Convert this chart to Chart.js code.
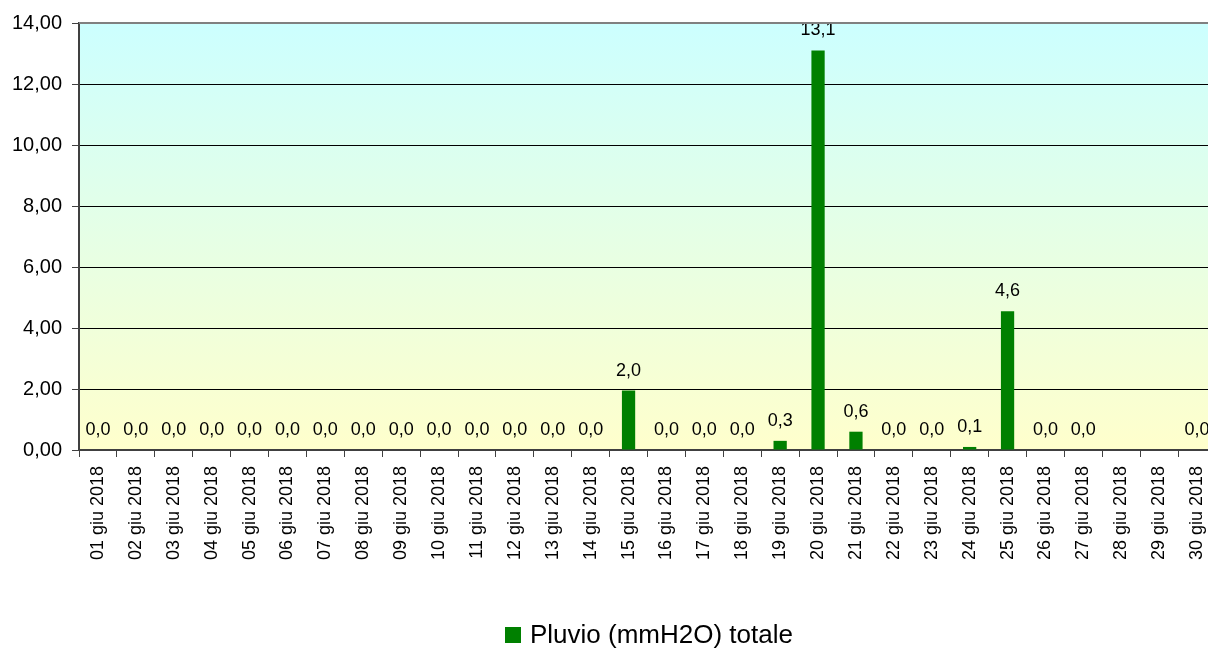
<!DOCTYPE html>
<html>
<head>
<meta charset="utf-8">
<script src="https://cdn.jsdelivr.net/npm/chart.js@4"></script>
<style>
  html, body { margin: 0; padding: 0; background: #fff; overflow: hidden; }
  #wrap { width: 1300px; height: 648px; }
</style>
</head>
<body>
<div id="wrap"><canvas id="rainChart" width="1300" height="648"></canvas></div>
<script>
// Daily rain values, June 2018 (null = no reading)
const days = ['01','02','03','04','05','06','07','08','09','10','11','12','13','14','15',
              '16','17','18','19','20','21','22','23','24','25','26','27','28','29','30'];
const dayLabels = days.map(d => d + ' giu 2018');
const rainValues = [0, 0, 0, 0, 0, 0, 0, 0, 0, 0, 0, 0, 0, 0, 1.95,
                    0, 0, 0, 0.3, 13.1, 0.6, 0, 0, 0.1, 4.55, 0, 0, null, null, 0];
const rainLabels = ['0,0','0,0','0,0','0,0','0,0','0,0','0,0','0,0','0,0','0,0','0,0','0,0','0,0','0,0','2,0',
                    '0,0','0,0','0,0','0,3','13,1','0,6','0,0','0,0','0,1','4,6','0,0','0,0','','','0,0'];
const yTicks = [0, 2, 4, 6, 8, 10, 12, 14];

const FONT = '"Liberation Sans", Arial, sans-serif';

// Plot background gradient + top border
const plotBackground = {
  id: 'plotBackground',
  beforeDraw(chart) {
    const { ctx, chartArea: a } = chart;
    const g = ctx.createLinearGradient(0, a.top, 0, a.bottom);
    g.addColorStop(0, '#ccffff');
    g.addColorStop(1, '#ffffcc');
    ctx.save();
    ctx.fillStyle = g;
    ctx.fillRect(a.left, a.top, a.right - a.left, a.bottom - a.top);
    ctx.restore();
  },
  afterDraw(chart) {
    const { ctx, chartArea: a } = chart;
    ctx.save();
    ctx.strokeStyle = '#808080';
    ctx.lineWidth = 2;
    ctx.beginPath();
    ctx.moveTo(a.left, a.top);
    ctx.lineTo(a.right, a.top);
    ctx.stroke();
    ctx.restore();
  }
};

// Value labels above bars
const barValues = {
  id: 'barValues',
  afterDatasetsDraw(chart) {
    const { ctx } = chart;
    const meta = chart.getDatasetMeta(0);
    ctx.save();
    ctx.font = '18px ' + FONT;
    ctx.fillStyle = '#000';
    ctx.textAlign = 'center';
    ctx.textBaseline = 'alphabetic';
    meta.data.forEach((bar, i) => {
      if (!rainLabels[i]) return;
      ctx.fillText(rainLabels[i], bar.x, bar.y - 15);
    });
    ctx.restore();
  }
};

// Legend drawn below the axis labels (offset like the original)
const bottomLegend = {
  id: 'bottomLegend',
  afterDraw(chart) {
    const { ctx } = chart;
    const ds = chart.data.datasets[0];
    ctx.save();
    ctx.fillStyle = ds.backgroundColor;
    ctx.fillRect(505, 627, 16, 16);
    ctx.font = '26px ' + FONT;
    ctx.fillStyle = '#000';
    ctx.textAlign = 'left';
    ctx.textBaseline = 'alphabetic';
    ctx.fillText(ds.label, 530, 643);
    ctx.restore();
  }
};

new Chart(document.getElementById('rainChart'), {
  type: 'bar',
  data: {
    labels: dayLabels,
    datasets: [{
      label: 'Pluvio (mmH2O) totale',
      data: rainValues,
      backgroundColor: '#008000',
      borderWidth: 0,
      barPercentage: 0.35,
      categoryPercentage: 1
    }]
  },
  options: {
    responsive: false,
    animation: false,
    layout: { padding: { top: 23, right: 84, left: 0, bottom: 0 } },
    plugins: {
      legend: { display: false },
      tooltip: { enabled: false }
    },
    scales: {
      x: {
        offset: true,
        grid: { offset: true, drawOnChartArea: false, tickLength: 7, color: '#404040', lineWidth: 1 },
        border: { color: '#404040', width: 2 },
        ticks: {
          font: { family: FONT, size: 18 },
          color: '#000',
          minRotation: 90,
          maxRotation: 90,
          autoSkip: false,
          padding: 9
        },
        afterFit(scale) { scale.height = 198; }
      },
      y: {
        min: 0,
        max: 14,
        afterBuildTicks(scale) { scale.ticks = yTicks.map(v => ({ value: v })); },
        grid: { color: '#000', lineWidth: 1, tickLength: 7, tickColor: '#404040' },
        border: { color: '#404040', width: 2 },
        ticks: {
          font: { family: FONT, size: 20 },
          color: '#000',
          padding: 10,
          callback: v => v.toFixed(2).replace('.', ',')
        },
        afterFit(scale) { scale.width = 79; }
      }
    }
  },
  plugins: [plotBackground, barValues, bottomLegend]
});
</script>
</body>
</html>
